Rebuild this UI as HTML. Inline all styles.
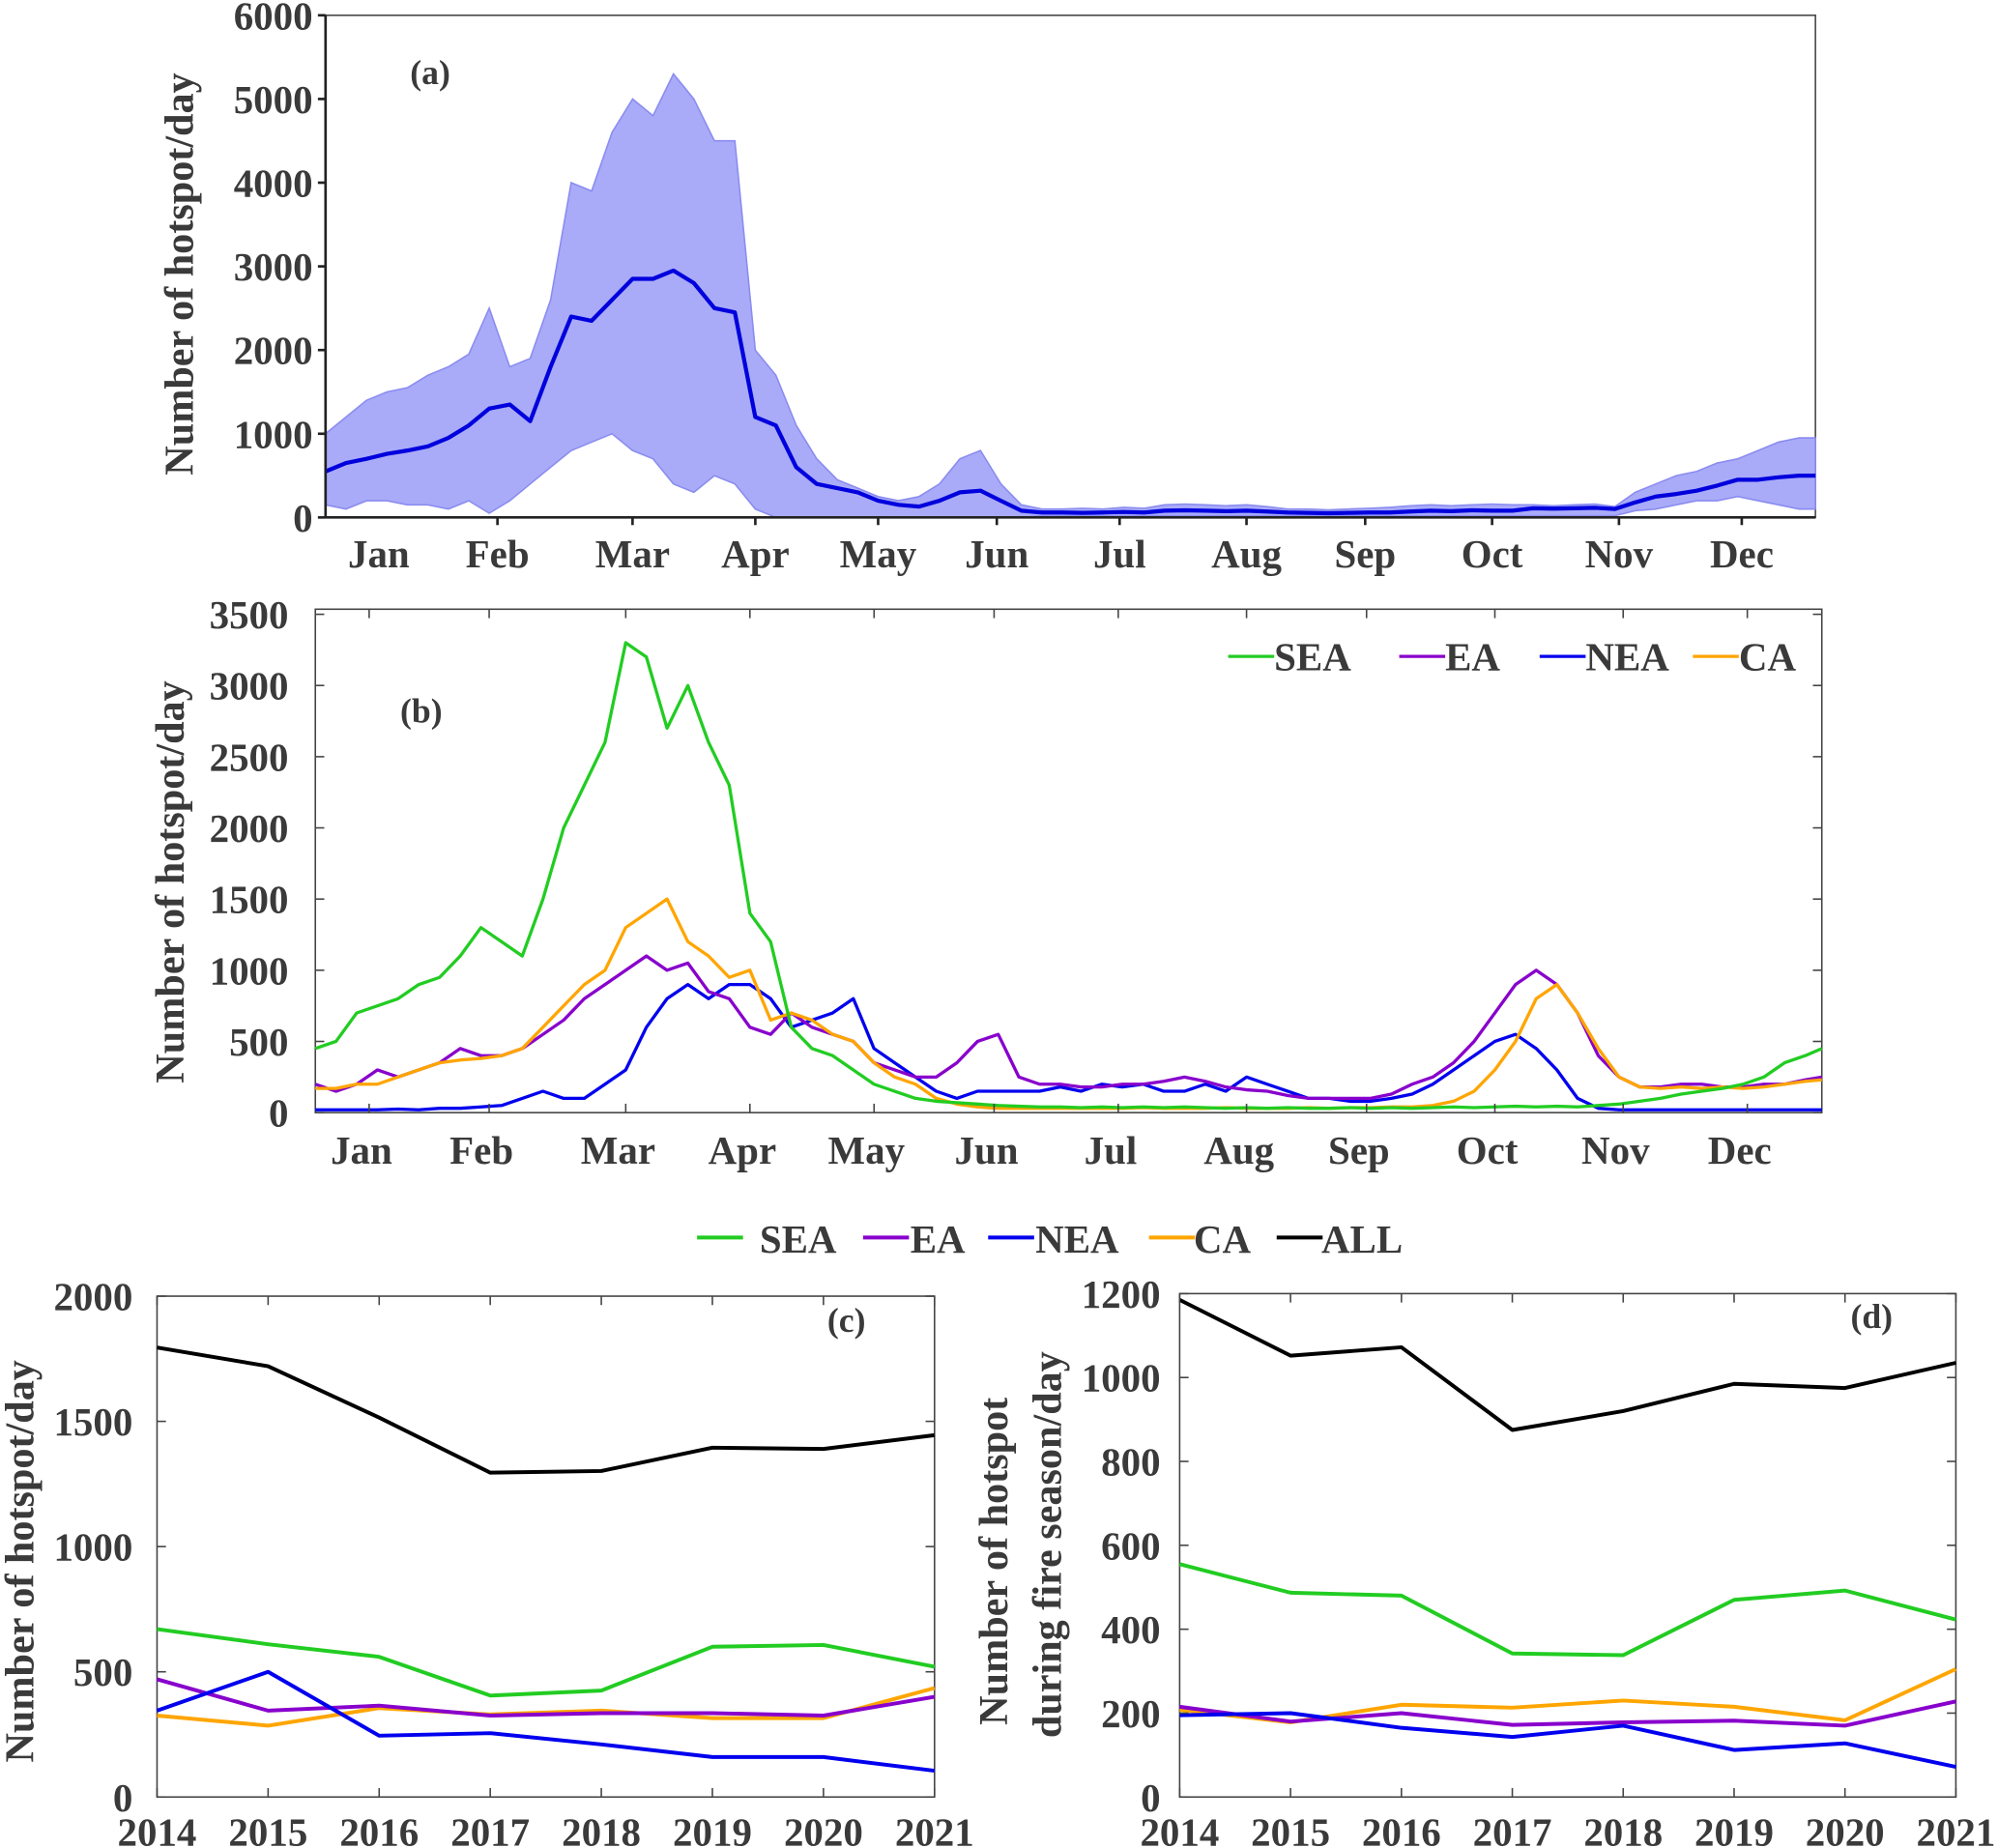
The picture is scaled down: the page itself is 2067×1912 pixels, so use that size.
<!DOCTYPE html>
<html><head><meta charset="utf-8"><style>
html,body{margin:0;padding:0;background:#fff}
svg{display:block}
text{font-family:"Liberation Serif",serif;font-weight:bold;fill:#3a3a3a}
</style></head><body>
<svg id="fig" width="2067" height="1912" viewBox="0 0 1565 1450" preserveAspectRatio="none" xmlns="http://www.w3.org/2000/svg"></svg>
<script>
// ---------- data ----------
const months = ["Jan","Feb","Mar","Apr","May","Jun","Jul","Aug","Sep","Oct","Nov","Dec"];
const monthDays = [14,43,76,106,136,165,195,226,255,286,317,347];
// panel (a): 5-day samples, index i -> day 1+5i
const aMean = [550,650,700,760,800,850,950,1100,1300,1350,1150,1800,2400,2350,2600,2850,2850,2950,2800,2500,2450,1200,1100,600,400,350,300,200,150,130,200,300,320,200,80,60,60,55,60,65,60,80,85,80,75,80,70,60,55,50,55,60,60,70,80,75,85,80,80,110,105,110,115,100,180,250,280,320,380,450,450,480,500,500];
const aUpper = [1000,1200,1400,1500,1550,1700,1800,1950,2500,1800,1900,2600,4000,3900,4600,5000,4800,5300,5000,4500,4500,2000,1700,1100,700,450,350,250,200,250,400,700,800,400,150,100,100,110,100,120,110,150,160,150,140,150,130,100,100,90,100,110,120,140,150,140,150,160,150,150,140,150,160,130,300,400,500,550,650,700,800,900,950,950];
const aLower = [150,100,200,200,150,150,100,200,50,200,400,600,800,900,1000,800,700,400,300,500,400,100,0,0,0,0,0,0,0,0,0,0,0,0,0,20,20,20,20,20,20,20,20,20,20,20,20,20,20,20,20,20,20,20,20,20,20,20,20,20,20,20,20,20,80,100,150,200,200,250,200,150,100,100];
// panel (b)
const bSEA = [450,500,700,750,800,900,950,1100,1300,1200,1100,1500,2000,2300,2600,3300,3200,2700,3000,2600,2300,1400,1200,600,450,400,300,200,150,100,80,70,60,50,45,40,40,35,40,35,40,35,40,35,30,35,30,35,30,30,35,30,35,30,35,40,35,40,45,40,45,40,50,60,80,100,130,150,170,200,250,350,400,450];
const bEA = [200,150,200,300,250,300,350,450,400,400,450,550,650,800,900,1000,1100,1000,1050,850,800,600,550,700,600,550,500,350,300,250,250,350,500,550,250,200,200,180,180,200,200,220,250,220,180,160,150,120,100,100,100,100,130,200,250,350,500,700,900,1000,900,700,400,250,180,180,200,200,180,180,200,200,230,250];
const bNEA = [20,20,20,20,25,20,30,30,40,50,100,150,100,100,200,300,600,800,900,800,900,900,800,600,650,700,800,450,350,250,150,100,150,150,150,150,180,150,200,180,200,150,150,200,150,250,200,150,100,100,80,80,100,130,200,300,400,500,550,450,300,100,30,20,20,20,20,20,20,20,20,20,20,20];
const bCA = [170,170,200,200,250,300,350,370,380,400,450,600,750,900,1000,1300,1400,1500,1200,1100,950,1000,650,700,650,550,500,350,250,200,100,60,40,30,30,30,30,30,30,30,35,30,30,30,35,30,30,30,35,30,35,35,40,40,50,80,150,300,500,800,900,700,450,250,180,170,180,170,180,170,180,200,220,230];
// panels (c),(d)
const years = [2014,2015,2016,2017,2018,2019,2020,2021];
const cALL = [1795,1720,1515,1295,1302,1395,1390,1445];
const cSEA = [670,610,560,405,425,600,607,520];
const cEA  = [470,345,365,325,335,335,325,400];
const cNEA = [345,500,245,255,210,160,160,105];
const cCA  = [325,285,355,330,345,315,315,435];
const dALL = [1185,1052,1072,875,920,985,975,1035];
const dSEA = [555,487,480,342,338,470,492,423];
const dEA  = [215,180,200,172,178,182,170,228];
const dNEA = [195,200,165,143,170,112,128,72];
const dCA  = [208,178,220,213,230,215,183,305];
const aTicks = [0,1000,2000,3000,4000,5000,6000];
const bTicks = [0,500,1000,1500,2000,2500,3000,3500];
const cTicks = [0,500,1000,1500,2000];
const dTicks = [0,200,400,600,800,1000,1200];

const GREEN="#22cc22", PURPLE="#8800cc", BLUE="#0000ee", ORANGE="#ffa500", BLACK="#000";
const FS=31;
const svg = document.getElementById('fig');
const NS = "http://www.w3.org/2000/svg";
function el(tag, attrs, parent){const e=document.createElementNS(NS,tag);for(const k in attrs)e.setAttribute(k,attrs[k]);(parent||svg).appendChild(e);return e;}
function txt(s,x,y,size,anchor,name,parent){const t=el('text',{x:x,y:y,'font-size':size,'text-anchor':anchor||'middle'},parent);t.textContent=s;


return t;}
function lin(x0,x1,d0,d1){return v=>x0+(v-d0)*(x1-x0)/(d1-d0);}
function poly(xs,ys,color,w,name,g){const p=el('polyline',{points:xs.map((x,i)=>x.toFixed(1)+','+ys[i].toFixed(1)).join(' '),fill:'none',stroke:color,'stroke-width':w,'stroke-linejoin':'round'},g);


return p;}
function box(x0,y0,x1,y1,name){const g=el('g',{});


el('rect',{x:x0,y:y0,width:x1-x0,height:y1-y0,fill:'none',stroke:'#444','stroke-width':1.2},g);return g;}
function yAxis(g,ticks,X0,X1,Y,lx,fs,name){ticks.forEach(t=>{const y=Y(t);el('line',{x1:X0,y1:y,x2:X0+7,y2:y,stroke:'#444','stroke-width':1.2},g);el('line',{x1:X1,y1:y,x2:X1-7,y2:y,stroke:'#444','stroke-width':1.2},g);txt(String(t),lx,y+11,fs,'end',name,g);});}

// ---------- panel (a) ----------
(function(){
 const X0=255,X1=1422,Y0=12,Y1=406;
 const X=lin(X0,X1,1,365), Y=lin(Y1,Y0,0,6000);
 const g=box(X0,Y0,X1,Y1,'panel-a');
 const days=aMean.map((_,i)=>Math.min(365,1+5*i));
 const up=days.map((d,i)=>X(d).toFixed(1)+','+Y(aUpper[i]).toFixed(1));
 const lo=days.map((d,i)=>X(d).toFixed(1)+','+Y(aLower[i]).toFixed(1)).reverse();
 const band=el('polygon',{points:up.concat(lo).join(' '),fill:'#a9abf8',stroke:'#8a8cf0','stroke-width':1.2},g);
 
 
 poly(days.map(X),aMean.map(Y),'#0000dd',3.2,'mean-line',g);
 el('line',{x1:X0,y1:Y0,x2:X0,y2:Y1,stroke:'#222','stroke-width':2},g);
 el('line',{x1:X0,y1:Y1,x2:X1,y2:Y1,stroke:'#222','stroke-width':2},g);
 aTicks.forEach(t=>{const y=Y(t);el('line',{x1:X0-6,y1:y,x2:X0,y2:y,stroke:'#222','stroke-width':2},g);txt(String(t),X0-10,y+11,FS,'end','y-tick-label',g);});
 months.forEach((m,i)=>{if(i>0){const xx=X(monthDays[i]);el('line',{x1:xx,y1:Y1,x2:xx,y2:Y1+6,stroke:'#222','stroke-width':2},g);}txt(m,X(monthDays[i]),445,FS,'middle','x-tick-label',g);});
 txt('(a)',337,66,27,'middle','panel-label-a',g).setAttribute('fill','#111');
 const t=txt('Number of hotspot/day',0,0,32,'middle','y-axis-title-a',g);t.setAttribute('transform','translate(151,215) rotate(-90)');
})();

// ---------- panel (b) ----------
(function(){
 const X0=247,X1=1427,Y0=478,Y1=873;
 const X=lin(X0,X1,1,365), Y=lin(Y1,482,0,3500);
 const g=box(X0,Y0,X1,Y1,'panel-b');
 const days=bSEA.map((_,i)=>Math.min(365,1+5*i));
 poly(days.map(X),bNEA.map(Y),BLUE,2.5,'nea-line',g);
 poly(days.map(X),bEA.map(Y),PURPLE,2.5,'ea-line',g);
 poly(days.map(X),bCA.map(Y),ORANGE,2.5,'ca-line',g);
 poly(days.map(X),bSEA.map(Y),GREEN,2.5,'sea-line',g);
 yAxis(g,bTicks,X0,X1,Y,226,FS,'y-tick-label');
 months.forEach((m,i)=>{const xx=X(monthDays[i]);el('line',{x1:xx,y1:Y0,x2:xx,y2:Y0+7,stroke:'#444','stroke-width':1.2},g);el('line',{x1:xx,y1:Y1,x2:xx,y2:Y1-7,stroke:'#444','stroke-width':1.2},g);txt(m,X(monthDays[i])-6,913,FS,'middle','x-tick-label',g);});
 txt('(b)',330,567,27,'middle','panel-label-b',g).setAttribute('fill','#111');
 const t=txt('Number of hotspot/day',0,0,32,'middle','y-axis-title-b',g);t.setAttribute('transform','translate(144,692) rotate(-90)');
 [[962,'SEA',GREEN],[1096,'EA',PURPLE],[1206,'NEA',BLUE],[1326,'CA',ORANGE]].forEach(([x,l,c])=>{const lg=el('g',{},g);
 
 
 el('line',{x1:x,y1:515,x2:x+36,y2:515,stroke:c,'stroke-width':2.5},lg);txt(l,x+36,526,FS,'start','legend-label',lg);});
})();

// ---------- shared legend ----------
(function(){
 const g=el('g',{});
 
 
 [[546,595,'SEA',GREEN],[676,713,'EA',PURPLE],[774,811,'NEA',BLUE],[900,935,'CA',ORANGE],[1000,1035,'ALL',BLACK]].forEach(([x,tx,l,c])=>{el('line',{x1:x,y1:971,x2:x+36,y2:971,stroke:c,'stroke-width':3},g);txt(l,tx,983,FS,'start','legend-label',g);});
})();

function yearPanel(X0,X1,Y0,Y1,maxV,ticks,series,label,lx,ly,name,tickX){
 const X=lin(X0,X1,2014,2021), Y=lin(Y1,Y0,0,maxV);
 const g=box(X0,Y0,X1,Y1,name);
 series.forEach(([vals,c,n])=>poly(years.map(X),vals.map(Y),c,3,n,g));
 yAxis(g,ticks,X0,X1,Y,tickX,FS,'y-tick-label');
 years.forEach(yr=>{const xx=X(yr);el('line',{x1:xx,y1:Y0,x2:xx,y2:Y0+7,stroke:'#444','stroke-width':1.2},g);el('line',{x1:xx,y1:Y1,x2:xx,y2:Y1-7,stroke:'#444','stroke-width':1.2},g);txt(String(yr),xx,1448,FS,'middle','x-tick-label',g);});
 txt(label,lx,ly,27,'middle','panel-label',g).setAttribute('fill','#111');
 return g;
}
const gc=yearPanel(123,732,1017,1410,2000,cTicks,[[cCA,ORANGE,'ca-line'],[cEA,PURPLE,'ea-line'],[cNEA,BLUE,'nea-line'],[cSEA,GREEN,'sea-line'],[cALL,BLACK,'all-line']],'(c)',663,1045,'panel-c',104);
const tc=txt('Number of hotspot/day',0,0,32,'middle','y-axis-title-c',gc);tc.setAttribute('transform','translate(26,1225) rotate(-90)');
const gd=yearPanel(924,1532,1015,1410,1200,dTicks,[[dCA,ORANGE,'ca-line'],[dEA,PURPLE,'ea-line'],[dNEA,BLUE,'nea-line'],[dSEA,GREEN,'sea-line'],[dALL,BLACK,'all-line']],'(d)',1466,1042,'panel-d',909);
const td1=txt('Number of hotspot',0,0,32,'middle','y-axis-title-d',gd);td1.setAttribute('transform','translate(789,1225) rotate(-90)');
const td2=txt('during fire season/day',0,0,32,'middle','y-axis-title-d-line2',gd);td2.setAttribute('transform','translate(831,1212) rotate(-90)');
</script>
</body></html>
